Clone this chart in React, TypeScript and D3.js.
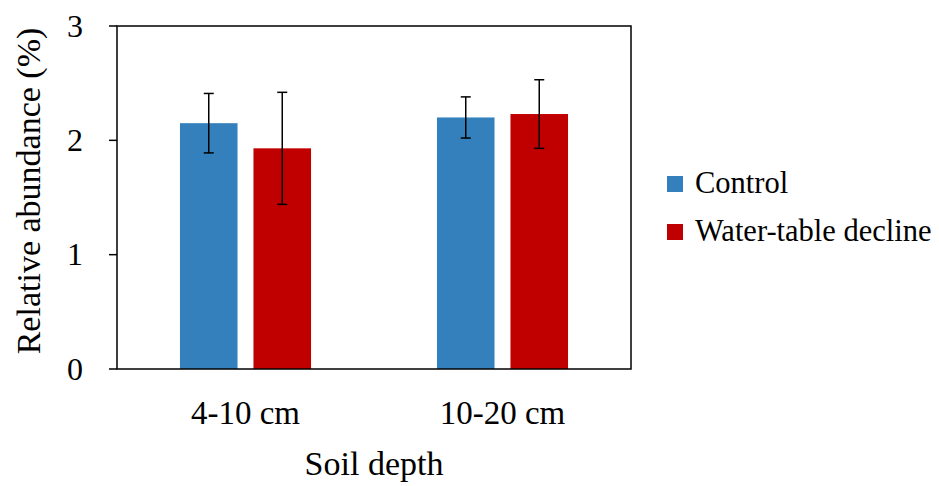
import React from "react";
import * as d3 from "d3";

// data
const depths = ["4-10 cm", "10-20 cm"];
const treatments = ["Control", "Water-table decline"];
const colors = ["#3380bd", "#c00000"];
const controlMeans = [2.15, 2.2];
const controlErr = [0.26, 0.18];
const declineMeans = [1.93, 2.23];
const declineErr = [0.49, 0.3];
const yTicks = [0, 1, 2, 3];

const W = 939, H = 486;
const margin = { top: 26, right: 308, bottom: 117, left: 117 };
const innerW = W - margin.left - margin.right;
const innerH = H - margin.top - margin.bottom;
const font = "Liberation Serif, Times New Roman, DejaVu Serif, serif";

export default function App() {
  const x = d3.scaleBand().domain(depths).range([0, innerW]);
  const y = d3.scaleLinear().domain([0, 3]).range([innerH, 0]);
  const barW = x.bandwidth() * 0.224;
  const gap = x.bandwidth() * 0.062;

  const series = [
    { name: treatments[0], means: controlMeans, err: controlErr, color: colors[0] },
    { name: treatments[1], means: declineMeans, err: declineErr, color: colors[1] },
  ];

  const barX = (d: string, i: number) => {
    const c = (x(d) ?? 0) + x.bandwidth() / 2;
    return i === 0 ? c - gap / 2 - barW : c + gap / 2;
  };

  return (
    <svg width={W} height={H} style={{ position: "absolute", left: 0, top: 0 }}>
      <rect width={W} height={H} fill="#fff" />
      <g transform={`translate(${margin.left},${margin.top})`}>
        {series.map((s, si) =>
          depths.map((d, di) => {
            const bx = barX(d, si);
            const cx = bx + barW / 2;
            const v = s.means[di];
            const e = s.err[di];
            return (
              <g key={s.name + d}>
                <rect x={bx} y={y(v)} width={barW} height={innerH - y(v)} fill={s.color} />
                <line x1={cx} x2={cx} y1={y(v + e)} y2={y(v - e)} stroke="#000" strokeWidth={1.5} />
                <line x1={cx - 5} x2={cx + 5} y1={y(v + e)} y2={y(v + e)} stroke="#000" strokeWidth={1.5} />
                <line x1={cx - 5} x2={cx + 5} y1={y(v - e)} y2={y(v - e)} stroke="#000" strokeWidth={1.5} />
              </g>
            );
          })
        )}
        <rect x={0} y={0} width={innerW} height={innerH} fill="none" stroke="#000" strokeWidth={1.5} />
        {yTicks.map((t) => (
          <g key={t} transform={`translate(0,${y(t)})`}>
            <line x1={-8} x2={0} stroke="#000" strokeWidth={1.5} />
            <text x={-34} dy="0.33em" textAnchor="end" fontFamily={font} fontSize={32}>
              {t}
            </text>
          </g>
        ))}
        {depths.map((d) => (
          <text
            key={d}
            x={(x(d) ?? 0) + x.bandwidth() / 2}
            y={424 - margin.top}
            textAnchor="middle"
            fontFamily={font}
            fontSize={33}
          >
            {d}
          </text>
        ))}
        <text x={innerW / 2} y={475 - margin.top} textAnchor="middle" fontFamily={font} fontSize={34}>
          Soil depth
        </text>
        <text
          transform={`translate(${40 - margin.left},${191 - margin.top}) rotate(-90)`}
          textAnchor="middle"
          fontFamily={font}
          fontSize={34}
        >
          Relative abundance (%)
        </text>
      </g>
      <g transform="translate(667,176)">
        {series.map((s, i) => (
          <g key={s.name} transform={`translate(0,${i * 48})`}>
            <rect width={16} height={16} fill={s.color} />
            <text x={28} y={17} fontFamily={font} fontSize={30.5}>
              {s.name}
            </text>
          </g>
        ))}
      </g>
    </svg>
  );
}
